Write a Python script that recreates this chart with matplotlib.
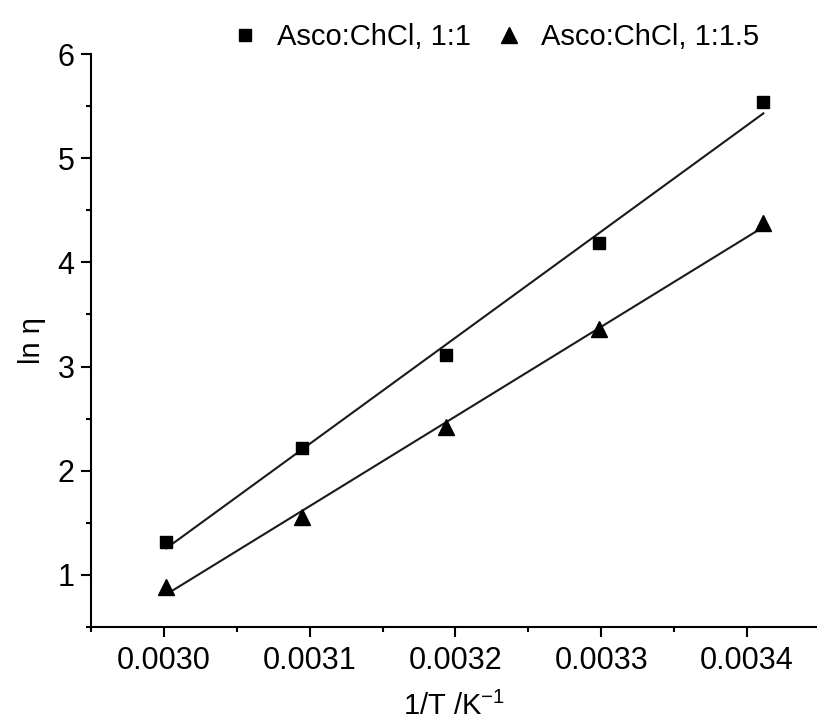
import numpy as np
import matplotlib
matplotlib.use("Agg")
import matplotlib.pyplot as plt
from matplotlib.ticker import MultipleLocator, FormatStrFormatter

# ── data ─────────────────────────────────────────────────────────────────────
temps_K = np.array([333.15, 323.15, 313.15, 303.15, 293.15])
inv_T = 1.0 / temps_K

ln_eta_11 = np.array([1.32, 2.22, 3.11, 4.19, 5.54])    # Asco:ChCl, 1:1
ln_eta_115 = np.array([0.88, 1.56, 2.42, 3.36, 4.38])   # Asco:ChCl, 1:1.5

labels = ["Asco:ChCl, 1:1", "Asco:ChCl, 1:1.5"]

# ── style ────────────────────────────────────────────────────────────────────
plt.rcParams["font.family"] = ["Liberation Sans", "DejaVu Sans"]
plt.rcParams["mathtext.fontset"] = "custom"
plt.rcParams["mathtext.rm"] = "Liberation Sans"
plt.rcParams["mathtext.it"] = "Liberation Sans:italic"
plt.rcParams["mathtext.default"] = "regular"

FS = 21
LINE_C = "#1a1a1a"

fig = plt.figure(figsize=(8.17, 7.25), dpi=100)
ax = fig.add_axes([0.1114, 0.1352, 0.8886, 0.7903])

# ── plot ─────────────────────────────────────────────────────────────────────
series = [(ln_eta_11, "s", 8.5), (ln_eta_115, "^", 11)]
handles = []
for y, mk, ms in series:
    h, = ax.plot(inv_T, y, linestyle="none", marker=mk, markersize=ms,
                 color="black", zorder=3)
    handles.append(h)
    k, b = np.polyfit(inv_T, y, 1)
    xx = np.array([inv_T.min(), inv_T.max()])
    ax.plot(xx, k * xx + b, color=LINE_C, linewidth=1.5, zorder=2)

# ── axes styling ─────────────────────────────────────────────────────────────
ax.set_xlim(0.00295, 0.003448)
ax.set_ylim(0.5, 6)
ax.xaxis.set_major_locator(MultipleLocator(0.0001))
ax.xaxis.set_minor_locator(MultipleLocator(0.00005))
ax.xaxis.set_major_formatter(FormatStrFormatter("%.4f"))
ax.yaxis.set_major_locator(MultipleLocator(1))
ax.yaxis.set_minor_locator(MultipleLocator(0.5))

for side in ("top", "right"):
    ax.spines[side].set_visible(False)
for side in ("left", "bottom"):
    ax.spines[side].set_linewidth(1.5)
    ax.spines[side].set_color("black")

ax.tick_params(which="major", direction="out", length=7, width=1.5,
               labelsize=22, pad=5)
ax.tick_params(which="minor", direction="out", length=3.8, width=1.5)
ax.tick_params(axis="x", which="major", pad=7)

ax.set_xlabel("1/T /K$^{-1}$", fontsize=FS, labelpad=11)
ax.set_ylabel("ln η", fontsize=FS, labelpad=8)

fig.legend(handles, labels, loc="center", bbox_to_anchor=(0.606, 0.949),
           ncol=2, frameon=False, fontsize=FS, handlelength=1.0,
           handletextpad=0.6, columnspacing=0.8, borderpad=0,
           borderaxespad=0)

fig.savefig("out.png", dpi=100, facecolor="white")
